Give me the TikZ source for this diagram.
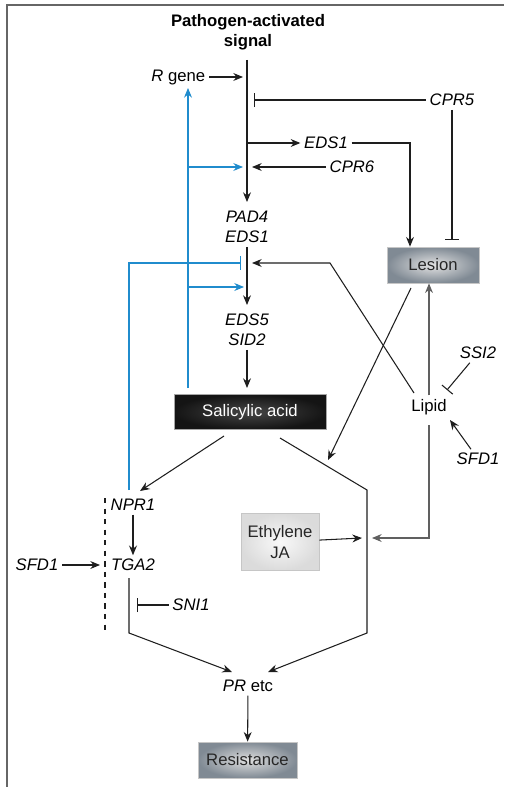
\documentclass[tikz,border=0pt]{standalone}
\usepackage{fontspec}
\setmainfont{Liberation Sans}
\usetikzlibrary{arrows.meta}
\definecolor{sigblue}{RGB}{32,140,205}
\definecolor{linegray}{RGB}{30,30,30}
\definecolor{boxgray}{RGB}{128,138,148}
\tikzset{
	txt/.style={inner sep=2pt,font=\fontsize{9.5}{11.5}\selectfont},
	gene/.style={txt,font=\fontsize{9.5}{11.5}\selectfont\itshape},
	arr/.style={linegray,line width=0.6pt,-{Stealth[length=5.5pt,width=4.5pt]}},
	inh/.style={linegray,line width=0.6pt,-{Bar[width=8pt]}},
	bluearr/.style={sigblue,line width=0.6pt,-{Stealth[length=5.5pt,width=4.5pt]}},
	blueinh/.style={sigblue,line width=0.6pt,-{Bar[width=8pt]}},
}
\begin{document}
\begin{tikzpicture}[x=0.02cm,y=-0.02cm]
	\useasboundingbox (0,0) rectangle (504,787);
	% Frame
	\draw[gray!80!black,line width=0.8pt] (7,787) -- (7,5) -- (504,5);
	% Nodes
	\node[txt,font=\fontsize{9.5}{11.5}\selectfont\bfseries,align=center] (sig) at (248,32) {Pathogen-activated\\signal};
	\node[txt,anchor=east] (rgene) at (209,77) {\textit{R} gene};
	\node[gene] (cpr5) at (452,100) {CPR5};
	\node[gene] (eds1a) at (326,143) {EDS1};
	\node[gene] (cpr6) at (352,167) {CPR6};
	\node[gene,align=center] (pad4) at (247,227) {PAD4\\EDS1};
	\node[gene,align=center] (eds5) at (247,330) {EDS5\\SID2};
	\node[txt,text=white,minimum width=3.04cm,minimum height=0.7cm,
		draw=gray!70,line width=0.4pt,inner color=gray!55!black,outer color=black!92] (sa) at (250,412) {Salicylic acid};
	\node[txt,text=black!85,minimum width=1.84cm,minimum height=0.72cm,
		draw=gray!45,line width=0.4pt,inner color=gray!22,outer color=boxgray] (lesion) at (433,265) {Lesion};
	\node[txt] (lipid) at (429,407) {Lipid};
	\node[gene] (ssi2) at (478,353) {SSI2};
	\node[gene] (sfdr) at (478,459) {SFD1};
	\node[txt,align=center,text=black!85,minimum width=1.56cm,minimum height=1.14cm,
		draw=gray!45,line width=0.4pt,inner color=gray!5,outer color=gray!28] (eth) at (280,542) {Ethylene\\JA};
	\node[gene] (npr1) at (133,505) {NPR1};
	\node[gene] (tga2) at (133,565) {TGA2};
	\node[gene] (sfdl) at (37,565) {SFD1};
	\node[gene] (sni1) at (191,605) {SNI1};
	\node[txt] (pr) at (248,686) {\textit{PR} etc};
	\node[txt,text=black!85,minimum width=1.98cm,minimum height=0.72cm,
		draw=gray!45,line width=0.4pt,inner color=gray!25,outer color=boxgray] (res) at (247.5,760) {Resistance};
	% Junction points
	\coordinate (sigtop) at (247,60);
	\coordinate (rg) at (243,77);
	\coordinate (c5bar) at (254,100);
	\coordinate (c5low) at (452,240);
	\coordinate (split) at (247,143);
	\coordinate (e1bend) at (410,143);
	\coordinate (c6end) at (252,167);
	\coordinate (blbot) at (188,388);
	\coordinate (bltop) at (188,88);
	\coordinate (bl1) at (243,167);
	\coordinate (bl2) at (244,287);
	\coordinate (nb) at (129,490);
	\coordinate (nbar) at (241,263);
	\coordinate (lpstart) at (414,393);
	\coordinate (lpbend) at (330,263);
	\coordinate (lpend) at (252,263);
	\coordinate (lsd) at (411,288);
	\coordinate (lsend) at (328,460);
	\coordinate (ssiend) at (447,390);
	\coordinate (sfdend) at (450,420);
	\coordinate (lptop) at (429,425);
	\coordinate (lpbot) at (429,538);
	\coordinate (lpin) at (372,538);
	\coordinate (ethin) at (362,538);
	\coordinate (saR) at (280,438);
	\coordinate (rt) at (367,490);
	\coordinate (rb) at (367,633);
	\coordinate (prR) at (268,672);
	\coordinate (saL) at (224,436);
	\coordinate (npin) at (140,491);
	\coordinate (tgtop) at (129,578);
	\coordinate (tgbot) at (129,633);
	\coordinate (prL) at (232,672);
	\coordinate (sfdin) at (100,565);
	\coordinate (snibar) at (137,605);
	% Main pathway
	\draw[arr] (sigtop) -- (247,202);
	\draw[arr] (rgene) -- (rg);
	\draw[inh] (cpr5) -- (c5bar);
	\draw[inh] (cpr5) -- (c5low);
	\draw[arr] (split) -- (eds1a);
	\draw[arr] (eds1a) -- (e1bend) -- (e1bend |- lesion.north);
	\draw[arr] (cpr6) -- (c6end);
	\draw[arr] (pad4) -- (247,305);
	\draw[arr] (eds5) -- (247,388);
	% Feedback from salicylic acid
	\draw[bluearr] (blbot) -- (bltop);
	\draw[bluearr] (bltop |- bl1) -- (bl1);
	\draw[bluearr] (bltop |- bl2) -- (bl2);
	\draw[blueinh] (nb) |- (nbar);
	% Lesion and lipid
	\draw[arr] (lpstart) -- (lpbend) -- (lpend);
	\draw[arr] (lsd) -- (lsend);
	\draw[arr,gray!75!black] (lipid) -- (lipid |- lesion.south);
	\draw[inh] (ssi2) -- (ssiend);
	\draw[arr] (sfdr) -- (sfdend);
	\draw[arr,gray!75!black] (lptop) -- (lpbot) -- (lpin);
	\draw[arr] (eth) -- (ethin);
	% Towards resistance
	\draw[arr] (saR) -- (rt) -- (rb) -- (prR);
	\draw[arr] (saL) -- (npin);
	\draw[arr] (npr1) -- (tga2);
	\draw[linegray,line width=0.6pt,dashed] (105,498) -- (105,633);
	\draw[arr] (sfdl) -- (sfdin);
	\draw[arr] (tgtop) -- (tgbot) -- (prL);
	\draw[inh] (sni1) -- (snibar);
	\draw[arr] (pr) -- (res);
\end{tikzpicture}
\end{document}
